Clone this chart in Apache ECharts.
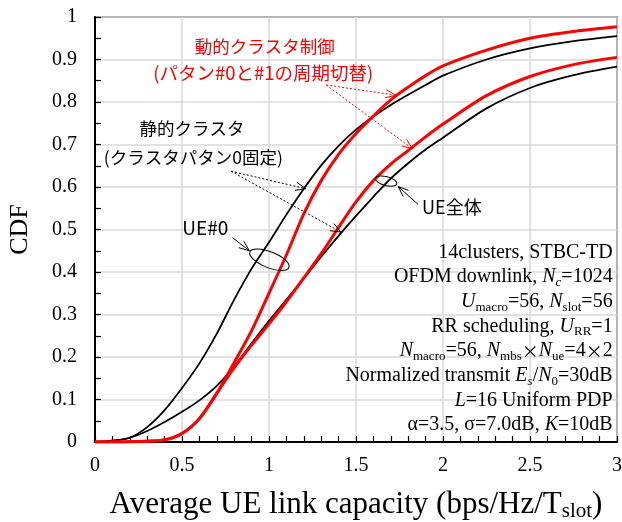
<!DOCTYPE html>
<html><head><meta charset="utf-8">
<script src="https://cdn.jsdelivr.net/npm/echarts@6/dist/echarts.min.js"></script>
<style>html,body{margin:0;padding:0;background:#fff}#c{width:622px;height:522px}</style>
</head><body><div id="c"></div>
<script>
// ---- data ----
const xs = [0,0.1,0.2,0.3,0.4,0.5,0.6,0.7,0.8,0.9,1.0,1.1,1.2,1.3,1.4,1.5,1.6,1.7,1.8,1.9,2.0,2.25,2.5,2.75,3.0];
const staticUE0 = [0,0.003,0.01,0.035,0.075,0.127,0.185,0.255,0.335,0.408,0.47,0.535,0.596,0.651,0.697,0.735,0.766,0.793,0.817,0.84,0.862,0.9,0.926,0.943,0.955];
const staticAll = [0,0.003,0.01,0.026,0.047,0.071,0.098,0.132,0.178,0.232,0.285,0.335,0.385,0.436,0.485,0.532,0.577,0.62,0.656,0.688,0.716,0.785,0.833,0.863,0.883];
const dynUE0 = [0,0,0.0005,0.002,0.005,0.02,0.055,0.114,0.187,0.262,0.35,0.44,0.537,0.615,0.677,0.726,0.767,0.805,0.835,0.862,0.885,0.922,0.95,0.966,0.977];
const dynAll = [0,0,0.0005,0.002,0.005,0.02,0.055,0.115,0.175,0.228,0.278,0.33,0.386,0.443,0.505,0.565,0.615,0.654,0.686,0.718,0.748,0.815,0.86,0.888,0.905];
const xTicks = ['0','0.5','1','1.5','2','2.5','3'];
const yTicks = ['0','0.1','0.2','0.3','0.4','0.5','0.6','0.7','0.8','0.9','1'];
const redTitle = ['動的クラスタ制御','(パタン#0と#1の周期切替)'];
const blackTitle = ['静的クラスタ','(クラスタパタン0固定)'];
const paramLines = [
 '14clusters, STBC-TD',
 'OFDM downlink, {i|N}{si|c}=1024',
 '{i|U}{s|macro}=56, {i|N}{s|slot}=56',
 'RR scheduling, {i|U}{s|RR}=1',
 '{i|N}{s|macro}=56, {i|N}{s|mbs}{x|×}{i|N}{s|ue}=4{x|×}2',
 'Normalized transmit {i|E}{si|s}/{i|N}{s|0}=30dB',
 '{i|L}=16 Uniform PDP',
 'α=3.5, σ=7.0dB, {i|K}=10dB'
];

const SERIF = '"Liberation Serif","Times New Roman",serif';
const JP = '"Noto Sans CJK JP","Noto Sans",sans-serif';
const pairs = ys => xs.map((x,i)=>[x, ys[i]]);

const chart = echarts.init(document.getElementById('c'), null, {renderer:'canvas'});
const lineSeries = (name, ys, color, w) => ({
  name, type:'line', data: pairs(ys), showSymbol:false, smooth:0.3,
  lineStyle:{color, width:w}, itemStyle:{color}, z: 3
});
chart.setOption({
  animation:false,
  backgroundColor:'#fff',
  grid:{left:95, right:5, top:17, bottom:80, outerBoundsMode:'none', containLabel:false,
    show:true, borderColor:'#111', borderWidth:1.5, backgroundColor:'transparent'},
  xAxis:{type:'value', min:0, max:3, interval:0.5,
    axisLine:{show:true, onZero:false, lineStyle:{color:'#000', width:2}},
    axisTick:{show:true, inside:true, length:6, lineStyle:{color:'#000', width:1.2}},
    minorTick:{show:true, splitNumber:5, length:6, lineStyle:{color:'#000', width:1.2}},
    splitLine:{show:true, lineStyle:{color:'#d9d9d9', width:1.5}},
    axisLabel:{margin:14, color:'#000', fontFamily:SERIF, fontSize:20,
      formatter: v => xTicks[Math.round(v/0.5)]},
    name:'Average UE link capacity (bps/Hz/T{sub|slot})', nameLocation:'middle', nameGap:46,
    nameTextStyle:{color:'#000', fontFamily:SERIF, fontSize:31, lineHeight:34,
      rich:{sub:{fontFamily:SERIF, fontSize:21, lineHeight:22, verticalAlign:'bottom'}}}
  },
  yAxis:{type:'value', min:0, max:1, interval:0.1,
    axisLine:{show:true, onZero:false, lineStyle:{color:'#000', width:2}},
    axisTick:{show:true, inside:true, length:6, lineStyle:{color:'#000', width:1.2}},
    minorTick:{show:true, splitNumber:2, length:6, lineStyle:{color:'#000', width:1.2}},
    splitLine:{show:true, lineStyle:{color:'#d9d9d9', width:1.5}},
    axisLabel:{margin:18, color:'#000', fontFamily:SERIF, fontSize:20,
      formatter: v => yTicks[Math.round(v*10)]},
    name:'CDF', nameLocation:'middle', nameGap:62, nameRotate:90,
    nameTextStyle:{color:'#000', fontFamily:SERIF, fontSize:26}
  },
  series:[
    lineSeries('静的 UE全体', staticAll, '#000', 1.8),
    lineSeries('静的 UE#0', staticUE0, '#000', 1.8),
    lineSeries('動的 UE全体', dynAll, '#ff0000', 3),
    lineSeries('動的 UE#0', dynUE0, '#ff0000', 3)
  ]
});

// ---- annotations anchored in data coordinates ----
const P = (x,y) => chart.convertToPixel({gridIndex:0}, [x,y]);
function head(tip, from, len, ang){
  const dx=from[0]-tip[0], dy=from[1]-tip[1], d=Math.hypot(dx,dy), ux=dx/d, uy=dy/d;
  const r=a=>[tip[0]+len*(ux*Math.cos(a)-uy*Math.sin(a)), tip[1]+len*(ux*Math.sin(a)+uy*Math.cos(a))];
  return [r(ang), tip, r(-ang)];
}
const G = [];
function arrow(a, b, color, dash, w){
  G.push({type:'line', shape:{x1:a[0],y1:a[1],x2:b[0],y2:b[1]}, style:{stroke:color, lineWidth:w, lineDash:dash}, z:10});
  G.push({type:'polyline', shape:{points:head(b,a,11,0.38)}, style:{stroke:color, lineWidth:1, fill:null}, z:10});
}
function txt(p, text, color, size, family, align, rich){
  G.push({type:'text', x:p[0], y:p[1], z:11, style:{text, fill:color, fontSize:size, fontFamily:family, align, verticalAlign:'middle', rich}});
}
// red (dynamic) annotation
const rs = P(1.329,0.840);
arrow(rs, P(1.729,0.816), '#ff0000', [2,2], 1);
arrow(rs, P(1.824,0.690), '#ff0000', [2,2], 1);
txt(P(0.975,0.930), redTitle[0], '#ff0000', 17.5, JP, 'center');
txt(P(0.967,0.868), redTitle[1], '#ff0000', 18.5, JP, 'center');
// black (static) annotation
const bs = P(0.782,0.637);
arrow(bs, P(1.212,0.596), '#000', [2,2], 1);
arrow(bs, P(1.413,0.494), '#000', [2,2], 1);
txt(P(0.557,0.738), blackTitle[0], '#000', 17.5, JP, 'center');
txt(P(0.565,0.670), blackTitle[1], '#000', 17.5, JP, 'center');
// UE#0
const e0 = P(1.002,0.429);
G.push({type:'ellipse', x:e0[0], y:e0[1], rotation:-0.38, shape:{cx:0,cy:0,rx:21,ry:8}, style:{stroke:'#000', lineWidth:1, fill:null}, z:10});
arrow(P(0.79,0.481), P(0.887,0.450), '#000', null, 1);
txt(P(0.634,0.505), 'UE#0', '#000', 19, JP, 'center');
// UE全体
const e1 = P(1.673,0.614);
G.push({type:'ellipse', x:e1[0], y:e1[1], rotation:-0.25, shape:{cx:0,cy:0,rx:11,ry:4.5}, style:{stroke:'#000', lineWidth:1, fill:null}, z:10});
arrow(P(1.857,0.559), P(1.743,0.601), '#000', null, 1);
txt(P(1.88,0.552), 'UE全体', '#000', 18, JP, 'left');
// parameter box
const richP = {
  i:{fontFamily:SERIF, fontSize:20, fontStyle:'italic', lineHeight:24},
  si:{fontFamily:SERIF, fontSize:13, fontStyle:'italic', lineHeight:14, verticalAlign:'bottom'},
  s:{fontFamily:SERIF, fontSize:13, lineHeight:14, verticalAlign:'bottom'},
  x:{fontFamily:JP, fontSize:17, lineHeight:24}
};
const rightEdge = P(2.975,0)[0];
paramLines.forEach((t,k)=>{
  G.push({type:'text', x:rightEdge, y:P(0,0.446-k*0.058)[1], z:11,
    style:{text:t, fill:'#000', fontSize:20, fontFamily:SERIF, lineHeight:24, align:'right', verticalAlign:'middle', rich:richP}});
});
chart.setOption({graphic:G});
</script></body></html>
